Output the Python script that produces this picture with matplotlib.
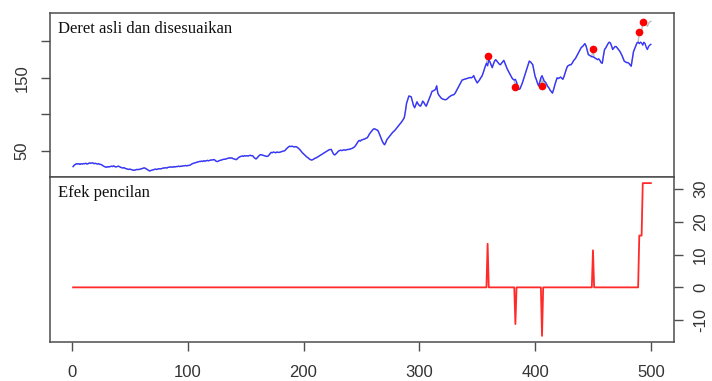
import numpy as np
import matplotlib
matplotlib.use("Agg")
import matplotlib.pyplot as plt

# adjusted series, t = 1..500
adjusted = [
    28, 30, 31, 32, 31.5, 32, 31, 32, 31.5, 32,
    32, 32.5, 31.5, 32, 33, 32.5, 33, 33, 32, 32.5,
    32, 31.5, 32, 31, 31, 30, 29, 28, 27.5, 27,
    28, 27.5, 28, 28.5, 28, 29, 28, 27.5, 28, 28.5,
    28, 27, 26.5, 26, 26.5, 25.5, 25, 24.5, 24, 24.5,
    24, 23.5, 23, 23, 23.5, 24, 24, 24, 24.5, 25,
    25.5, 26, 26, 25, 24, 23, 22, 22.5, 23, 23.5,
    24, 24.5, 24, 24.5, 25, 25, 25, 25.5, 26, 26,
    26.5, 26, 27, 27, 27.5, 27.5, 27, 28, 27.5, 28,
    28, 28.5, 28, 28.5, 28.5, 29, 29, 29.5, 29, 29.5,
    29.5, 30, 31, 32, 32.5, 33, 33.5, 34, 34.5, 35,
    35, 35.5, 35, 36, 35.5, 36, 36.5, 36, 36.5, 37,
    37, 37.5, 37.5, 36, 35, 35, 36, 36.5, 37, 37.5,
    38, 38, 38.5, 39, 39.5, 40, 39.5, 40, 39, 38.5,
    38, 37.5, 39, 40.5, 41.5, 42, 42.5, 42, 43, 42.5,
    43, 42.5, 43, 43.5, 43, 43, 41, 39.5, 38.5, 40,
    42, 43.5, 44.5, 44, 43.5, 43, 42.5, 42, 42, 43.5,
    45.5, 47.5, 47, 48, 47.5, 47, 48, 47.5, 47.5, 48,
    48.5, 49, 49.5, 50, 52, 53.5, 55, 56, 55.5, 56,
    55.5, 55, 55.5, 55, 54, 52.5, 51, 49, 47, 45.5,
    44, 42.5, 41, 40, 38.5, 37.5, 37, 37.5, 38.5, 39.5,
    40, 41, 42, 43, 44, 45, 46, 47, 48, 49,
    50, 51, 51.5, 51.5, 48, 45, 44, 45.5, 47, 49,
    50, 50.5, 50, 50.5, 51, 50.5, 51, 51.5, 51.5, 52,
    52.5, 53, 54, 55, 57, 59.5, 62, 64, 63, 64.5,
    65, 65.5, 66, 67, 67.5, 70, 73, 75, 77, 79,
    80, 79.5, 78.5, 78, 75, 71, 67, 63, 60, 58,
    61, 65, 67, 69, 71, 73, 75, 76.5, 78, 80,
    82, 84, 86, 88, 90, 92.5, 95, 104, 115, 120,
    125, 124.5, 124, 118, 112, 109, 113, 117, 114, 112,
    111, 114, 118, 116, 113, 111, 115, 119, 123, 127,
    131.5, 132, 133, 134, 139, 129, 126, 124, 122, 121,
    120.5, 120, 120, 121, 122.5, 124, 125, 126, 126.5, 127,
    129, 132, 135, 138, 141, 144, 147, 147.5, 148, 148.5,
    149, 149.5, 150, 150.5, 150, 151, 153, 149, 146, 143,
    145, 147, 150, 152, 156, 161, 166, 170, 166.5, 175,
    172, 168, 164, 169, 173, 175, 173, 171, 169, 168,
    170, 172, 174, 170, 166, 162, 159, 156, 153, 150,
    148, 147, 148, 144, 138, 134, 135, 139, 143, 148,
    153, 158, 163, 168, 173, 172, 170, 168, 160, 152,
    148, 143, 139, 144, 150, 153, 149, 145, 144, 141,
    138, 136, 133, 131, 129, 134, 140, 145, 150, 149,
    150, 151, 149.5, 148, 152, 157, 162, 166, 167, 168,
    168, 170, 173, 175, 177, 180, 183, 186, 189, 192,
    193, 195, 197, 194, 188, 182, 181, 180, 179, 179,
    178, 177, 176, 175, 176, 174, 171, 170, 180, 189,
    191, 194, 197, 199, 198, 194, 189, 191, 193, 193,
    191, 189, 187, 184, 181, 177, 173, 172, 171, 171,
    170, 168, 166, 176, 186, 190, 194, 198, 199, 197,
    199, 198, 195, 199, 197, 192, 189, 193, 195, 196,
]

# outliers: additive (AO) and level shift (LS)
ao_time = [359, 383, 406, 450]
ao_size = [13.3, -11.2, -14.8, 11.3]
ls_time = [490, 493]
ls_size = [15.8, 16.0]

t = np.arange(1, len(adjusted) + 1)
adj = np.array(adjusted, dtype=float)
effects = np.zeros(len(adj))
for i, s in zip(ao_time, ao_size):
    effects[i - 1] += s
for i, s in zip(ls_time, ls_size):
    effects[i - 1:] += s
original = adj + effects
out_idx = np.array(ao_time + ls_time) - 1

plt.rcParams['font.family'] = ['Liberation Sans', 'DejaVu Sans']
plt.rcParams['axes.unicode_minus'] = False
frame = '#4d4d4d'

fig = plt.figure(figsize=(7.12, 3.81), dpi=100)
ax1 = fig.add_axes([0.0702, 0.5354, 0.8764, 0.4305])
ax2 = fig.add_axes([0.0702, 0.1024, 0.8764, 0.4330])


def r_lim(vals):
    lo, hi = min(vals), max(vals)
    pad = 0.04 * (hi - lo)
    return lo - pad, hi + pad


# top panel: original (grey) under adjusted (blue)
ax1.plot(t, original, color='#bdbdbd', lw=1)
ax1.plot(t, adj, color='#3535ff', lw=1)
ax1.plot(t[out_idx], original[out_idx], 'o', color='red', ms=4.5, mec='red')
ax1.set_xlim(r_lim(t))
ax1.set_ylim(r_lim(list(adj) + list(original)))
ax1.set_yticks([50, 100, 150, 200])
ax1.set_yticklabels(['50', '', '150', ''])
ax1.set_xticks([])
ax1.tick_params(axis='y', length=6.5, width=1, color=frame, labelcolor='#333333',
                labelsize=12, pad=8)
for lab in ax1.get_yticklabels():
    lab.set_rotation(90)
    lab.set_va('center')
ax1.text(0.013, 0.95, 'Deret asli dan disesuaikan', transform=ax1.transAxes,
         family='Liberation Serif', fontsize=12, va='top', ha='left', color='#111111')

# bottom panel: outlier effects
ax2.plot(t, effects, color='#ff2a2a', lw=1.3)
ax2.set_xlim(r_lim(t))
ax2.set_ylim(r_lim(effects))
ax2.set_xticks([0, 100, 200, 300, 400, 500])
ax2.set_yticks([-10, 0, 10, 20, 30])
ax2.yaxis.tick_right()
ax2.tick_params(axis='both', length=6.8, width=1, color=frame, labelcolor='#333333',
                labelsize=12)
ax2.tick_params(axis='x', pad=10)
ax2.tick_params(axis='y', pad=7)
for lab in ax2.get_yticklabels():
    lab.set_rotation(90)
    lab.set_va('center')
ax2.text(0.013, 0.95, 'Efek pencilan', transform=ax2.transAxes,
         family='Liberation Serif', fontsize=12, va='top', ha='left', color='#111111')

for ax in (ax1, ax2):
    for sp in ax.spines.values():
        sp.set_color(frame)
        sp.set_linewidth(1.1)

fig.savefig('out.png', dpi=100)
